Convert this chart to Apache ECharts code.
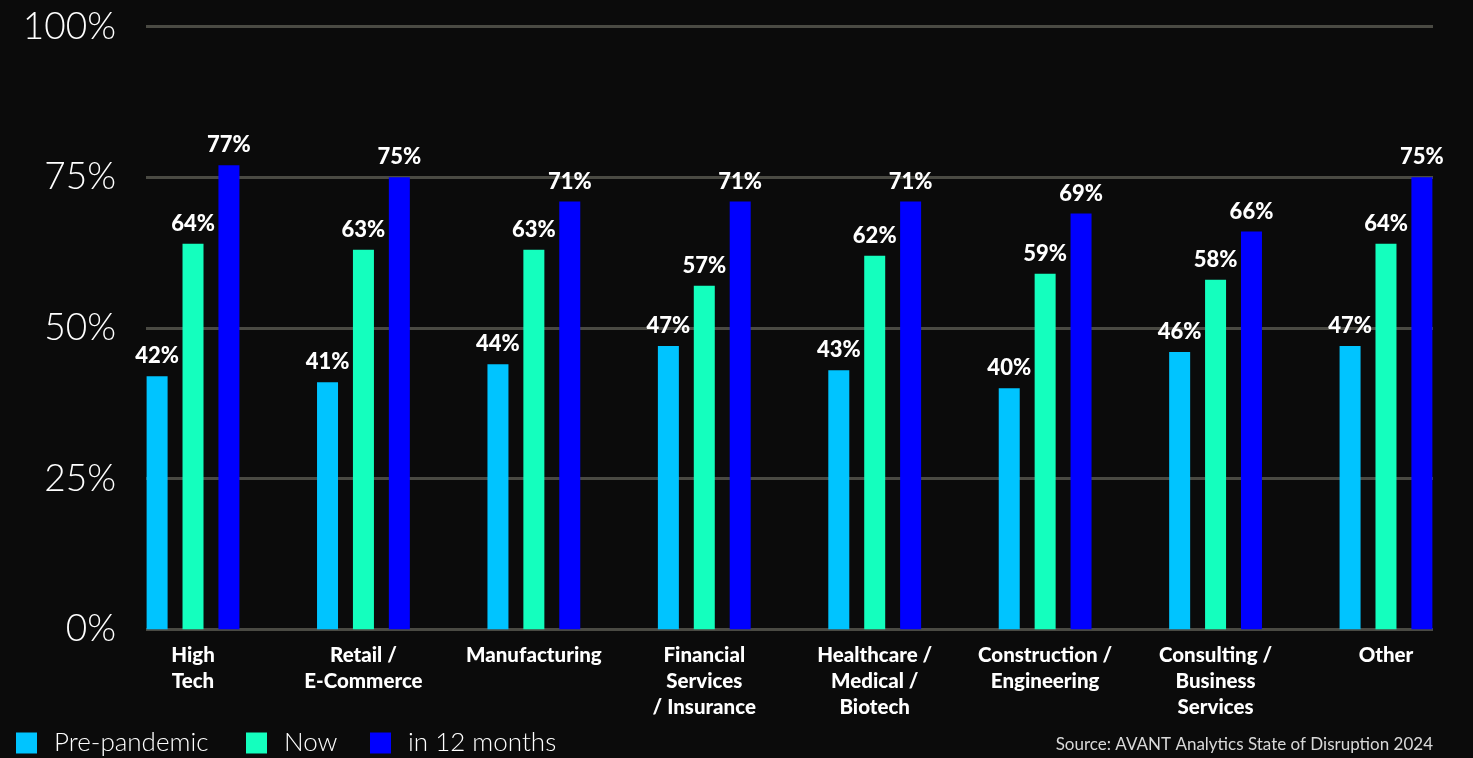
<!DOCTYPE html>
<html>
<head>
<meta charset="utf-8">
<script src="https://cdn.jsdelivr.net/npm/echarts@6/dist/echarts.min.js"></script>
<style>
html,body{margin:0;padding:0;background:#0b0b0b;}
#c{width:1473px;height:758px;}
</style>
</head>
<body>
<div id="c"></div>
<script>
var categories = ["High\nTech", "Retail /\nE-Commerce", "Manufacturing", "Financial\nServices\n/ Insurance", "Healthcare /\nMedical /\nBiotech", "Construction /\nEngineering", "Consulting /\nBusiness\nServices", "Other"];
var prePandemic = [42, 41, 44, 47, 43, 40, 46, 47];
var nowValues = [64, 63, 63, 57, 62, 59, 58, 64];
var in12Months = [77, 75, 71, 71, 71, 69, 66, 75];
var seriesNames = ["Pre-pandemic", "Now", "in 12 months"];
var yTicks = [0, 25, 50, 75, 100];
var sourceText = "Source: AVANT Analytics State of Disruption 2024";

var colors = ["#00c4ff", "#14ffbe", "#0000ff"];
var boldFont = "Lato";
var chart = echarts.init(document.getElementById('c'));

function barSeries(name, data, color) {
  return {
    name: name,
    type: 'bar',
    xAxisIndex: 1,
    yAxisIndex: 1,
    data: data,
    barWidth: 21,
    barGap: '71%',
    itemStyle: { color: color },
    label: {
      show: true,
      position: 'top',
      distance: 9,
      formatter: '{c}%',
      color: '#ffffff',
      fontFamily: boldFont,
      fontWeight: 900,
      fontSize: 22
    }
  };
}

function legendAt(left, name) {
  return {
    left: left,
    top: 730,
    padding: 0,
    data: [name],
    icon: 'rect',
    itemWidth: 21,
    itemHeight: 21,
    textStyle: {
      color: '#ffffff',
      fontFamily: 'Lato',
      fontWeight: 300,
      fontSize: 26,
      padding: [0, 0, 0, 12]
    }
  };
}

chart.setOption({
  backgroundColor: '#0b0b0b',
  animation: false,
  grid: [
    { left: 146, right: 40, top: 26.7, bottom: 128.7 },
    { left: 107.8, right: 1.8, top: 26.7, bottom: 128.7 }
  ],
  xAxis: [
    { gridIndex: 0, type: 'value', show: false, min: 0, max: 1 },
    {
      gridIndex: 1,
      type: 'category',
      data: categories,
      axisLine: { show: false },
      axisTick: { show: false },
      axisLabel: {
        color: '#ffffff',
        fontFamily: boldFont,
        fontWeight: 900,
        fontSize: 20.5,
        lineHeight: 26,
        margin: 13,
        interval: 0
      }
    }
  ],
  yAxis: [
    {
      gridIndex: 0,
      type: 'value',
      min: yTicks[0],
      max: yTicks[yTicks.length - 1],
      interval: 25,
      axisLine: { show: false },
      axisTick: { show: false },
      splitLine: { show: true, lineStyle: { color: '#4a4a43', width: 3 } },
      axisLabel: {
        formatter: '{value}%',
        color: '#ffffff',
        fontFamily: 'Lato',
        fontWeight: 300,
        fontSize: 37,
        margin: 30
      }
    },
    { gridIndex: 1, type: 'value', min: 0, max: 100, show: false }
  ],
  legend: [
    legendAt(16, seriesNames[0]),
    legendAt(246, seriesNames[1]),
    legendAt(370, seriesNames[2])
  ],
  graphic: [{
    type: 'text',
    right: 40,
    top: 736,
    style: {
      text: sourceText,
      fill: '#d9d9d9',
      font: '17px Lato'
    }
  }],
  series: [
    barSeries(seriesNames[0], prePandemic, colors[0]),
    barSeries(seriesNames[1], nowValues, colors[1]),
    barSeries(seriesNames[2], in12Months, colors[2])
  ]
});
</script>
</body>
</html>
